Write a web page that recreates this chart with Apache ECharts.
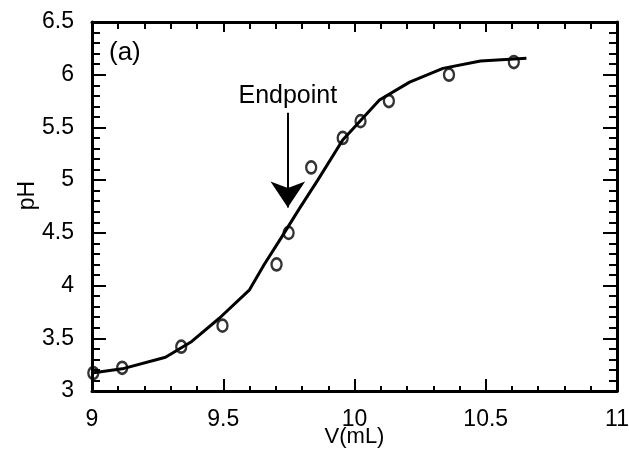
<!DOCTYPE html>
<html>
<head>
<meta charset="utf-8">
<script src="https://cdn.jsdelivr.net/npm/echarts@6/dist/echarts.min.js"></script>
<style>
  html, body { margin: 0; padding: 0; background: #fff; }
  #chart { width: 629px; height: 453px; }
</style>
</head>
<body>
<div id="chart"></div>
<script>
// measured titration points
const volMeasured = [9.005, 9.115, 9.34, 9.497, 9.703, 9.749, 9.835, 9.955, 10.023, 10.131, 10.36, 10.607];
const phMeasured = [3.17, 3.22, 3.42, 3.62, 4.2, 4.5, 5.12, 5.4, 5.56, 5.75, 6.0, 6.12];

// fitted curve
const volFit = [9.0, 9.115, 9.28, 9.38, 9.485, 9.6, 9.656, 9.72, 9.79, 9.86, 9.955, 10.095, 10.21, 10.337, 10.48, 10.655];
const phFit = [3.17, 3.21, 3.32, 3.47, 3.69, 3.96, 4.2, 4.45, 4.73, 5.0, 5.38, 5.76, 5.93, 6.06, 6.13, 6.156];

// endpoint arrow: [V, pH top] -> [V, pH tip]
const endpointV = 9.746;
const endpointArrow = [5.64, 4.74];
const endpointLabelPH = 5.8;

const font = "Liberation Sans, Arial, sans-serif";

const el = document.getElementById("chart");
const chart = echarts.init(el, null, { renderer: "canvas" });

function axis(pos, labels, majorLen, minorLen) {
  const isX = pos === "top" || pos === "bottom";
  return {
    type: "value",
    position: pos,
    min: isX ? 9 : 3,
    max: isX ? 11 : 6.5,
    interval: 0.5,
    axisLine: { show: true, onZero: false, lineStyle: { color: "#000", width: 3 } },
    axisTick: { show: true, inside: true, length: majorLen, lineStyle: { color: "#000", width: 2 } },
    minorTick: { show: true, splitNumber: 5, length: minorLen, lineStyle: { color: "#000", width: 2 } },
    splitLine: { show: false },
    minorSplitLine: { show: false },
    axisLabel: labels
      ? { show: true, color: "#000", fontSize: 23, fontFamily: font, margin: isX ? 17 : 18 }
      : { show: false },
  };
}

const xBottom = axis("bottom", true, 12, 5);
xBottom.name = "V(mL)";
xBottom.nameLocation = "middle";
xBottom.nameGap = 35;
xBottom.nameMoveOverlap = false;
xBottom.nameTextStyle = { color: "#000", fontSize: 22, fontFamily: font };

const yLeft = axis("left", true, 14, 8);
yLeft.name = "pH";
yLeft.nameLocation = "middle";
yLeft.nameGap = 53;
yLeft.nameRotate = 90;
yLeft.nameMoveOverlap = false;
yLeft.nameTextStyle = { color: "#000", fontSize: 23, fontFamily: font, padding: [0, 0, 0, 22] };

chart.setOption({
  animation: false,
  backgroundColor: "#fff",
  grid: { left: 92, right: 12, top: 22, bottom: 62, containLabel: false, outerBoundsMode: "none" },
  graphic: [{
    type: "text", left: 109, top: 40,
    style: { text: "(a)", font: "26px " + font, fill: "#000" },
  }],
  xAxis: [xBottom, axis("top", false, 10, 7)],
  yAxis: [yLeft, axis("right", false, 14, 8)],
  series: [
    {
      name: "fit",
      type: "line",
      data: volFit.map((v, i) => [v, phFit[i]]),
      showSymbol: false,
      lineStyle: { color: "#000", width: 3 },
      markLine: {
        silent: true,
        symbol: ["none", "arrow"],
        symbolSize: 26,
        lineStyle: { color: "#000", width: 2, type: "solid" },
        itemStyle: { color: "#000" },
        label: { show: false },
        data: [[
          { coord: [endpointV, endpointArrow[0]] },
          { coord: [endpointV, endpointArrow[1]] },
        ]],
      },
      markPoint: {
        silent: true,
        symbol: "rect",
        symbolSize: 1,
        itemStyle: { color: "rgba(0,0,0,0)" },
        label: {
          show: true, position: "inside", color: "#000",
          fontSize: 25, fontFamily: font, formatter: "Endpoint",
        },
        data: [{ coord: [endpointV, endpointLabelPH] }],
      },
    },
    {
      name: "measured",
      type: "scatter",
      data: volMeasured.map((v, i) => [v, phMeasured[i]]),
      symbol: "path://M0,-1A1,1 0 1,1 0,1A1,1 0 1,1 0,-1Z",
      symbolSize: [10, 12],
      itemStyle: { color: "rgba(255,255,255,0)", borderColor: "#000", borderWidth: 2.5 },
      z: 3,
    },
  ],
});
</script>
</body>
</html>
